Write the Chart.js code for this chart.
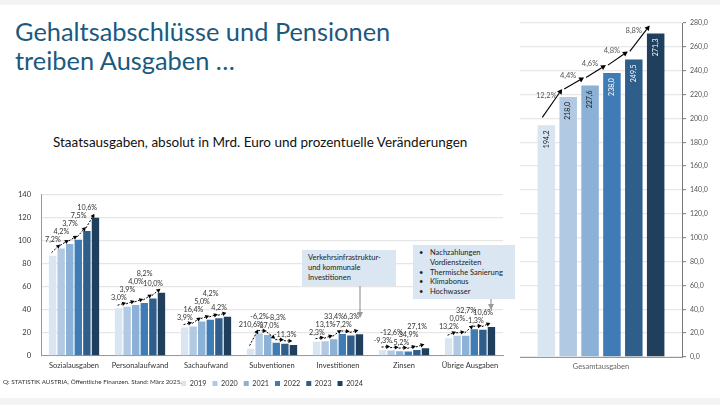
<!DOCTYPE html>
<html><head><meta charset="utf-8">
<script src="https://cdn.jsdelivr.net/npm/chart.js@4.4.1/dist/chart.umd.min.js"></script>
<style>
html,body{margin:0;padding:0;background:#fff;}
#slide{position:relative;width:720px;height:405px;overflow:hidden;font-family:Lato,"Open Sans",sans-serif;background:#fff;}
.strip{position:absolute;left:0;width:720px;background:#f2f3f5;}
#title{position:absolute;left:15px;top:17px;font-size:25.4px;line-height:29px;color:#1b5a7e;white-space:nowrap;}
#subtitle{position:absolute;left:53px;top:134px;font-size:13.5px;color:#111;white-space:nowrap;}
#leftWrap{position:absolute;left:0;top:180px;width:515px;height:217px;}
#rightWrap{position:absolute;left:505px;top:0;width:215px;height:397px;}
.box{position:absolute;background:#dae6f1;font-size:7.5px;color:#222;line-height:9.8px;box-sizing:border-box;}
.box .li{position:relative;padding-left:17px;white-space:nowrap;}
.box .li b{position:absolute;left:6px;font-weight:normal;}
#source{position:absolute;left:3px;top:378px;font-size:6.3px;color:#333;white-space:nowrap;}
svg{position:absolute;left:0;top:0;}
</style></head>
<body>
<div id="slide">
  <div class="strip" style="top:0;height:5px;"></div>
  <div class="strip" style="top:398px;height:7px;"></div>
  <div id="title">Gehaltsabschlüsse und Pensionen<br>treiben Ausgaben …</div>
  <div id="subtitle">Staatsausgaben, absolut in Mrd. Euro und prozentuelle Veränderungen</div>
  <div id="leftWrap"><canvas id="left"></canvas></div>
  <div id="rightWrap"><canvas id="right"></canvas></div>
  <div class="box" style="left:302px;top:250px;width:94px;height:36px;padding:3px 0 0 6px;">Verkehrsinfrastruktur-<br>und kommunale<br>Investitionen</div>
  <div class="box" style="left:413px;top:245px;width:102px;height:54px;padding-top:3px;">
    <div class="li"><b>•</b>Nachzahlungen</div>
    <div class="li">Vordienstzeiten</div>
    <div class="li"><b>•</b>Thermische Sanierung</div>
    <div class="li"><b>•</b>Klimabonus</div>
    <div class="li"><b>•</b>Hochwasser</div>
  </div>
  <svg width="720" height="405">
    <defs><marker id="ah" markerWidth="6" markerHeight="6" refX="5" refY="3" orient="auto" markerUnits="userSpaceOnUse"><path d="M0,0 L6,3 L0,6 z" fill="#999"/></marker></defs>
    <line x1="360" y1="286" x2="360" y2="317" stroke="#999" stroke-width="1.2" marker-end="url(#ah)"/>
    <line x1="491" y1="299" x2="491" y2="309" stroke="#999" stroke-width="1.2" marker-end="url(#ah)"/>
  </svg>
  <div id="source">Q: STATISTIK AUSTRIA, Öffentliche Finanzen. Stand: März 2025.</div>
</div>
<script>
// ---------- data ----------
const categories = ['Sozialausgaben','Personalaufwand','Sachaufwand','Subventionen','Investitionen','Zinsen','Übrige Ausgaben'];
const years = ['2019','2020','2021','2022','2023','2024'];
const v2019 = [86.9, 41.3, 24.5, 6.2, 12.3, 5.0, 15.3];
const v2020 = [93.2, 42.5, 25.5, 19.3, 12.6, 4.5, 17.3];
const v2021 = [97.1, 44.2, 29.7, 18.1, 14.3, 4.0, 17.3];
const v2022 = [100.7, 45.9, 31.2, 11.4, 19.0, 3.8, 23.0];
const v2023 = [108.3, 49.7, 32.5, 10.5, 17.7, 5.1, 22.7];
const v2024 = [119.8, 54.7, 33.9, 9.3, 18.8, 6.5, 25.1];
const chg2020 = ['7,2%','3,0%','3,9%','210,6%','2,3%','-9,3%','13,2%'];
const chg2021 = ['4,2%','3,9%','16,4%','-6,2%','13,1%','-12,6%','0,0%'];
const chg2022 = ['3,7%','4,0%','5,0%','-37,0%','33,4%','-5,2%','32,7%'];
const chg2023 = ['7,5%','8,2%','4,2%','-8,3%','-7,2%','34,9%','-1,3%'];
const chg2024 = ['10,6%','10,0%','4,2%','-11,3%','6,3%','27,1%','10,6%'];
const leftTicks = [0,20,40,60,80,100,120,140];
const totalCategory = ['Gesamtausgaben'];
const totals = [194.2, 218.0, 227.6, 238.0, 249.5, 271.3];
const totalChg = ['12,2%','4,4%','4,6%','4,8%','8,8%'];
const rightTicks = [0,20,40,60,80,100,120,140,160,180,200,220,240,260,280];

// ---------- styles ----------
const colors = ['#d9e5f1','#b1c9e2','#8cb1d6','#3f7cb6','#2f5e8a','#203f5c'];
Chart.defaults.font.family = 'Lato, "Open Sans", sans-serif';
Chart.defaults.animation = false;

function drawArrow(ctx,x1,y1,x2,y2,head,dash,color,lw){
  ctx.save();
  ctx.strokeStyle=color; ctx.fillStyle=color; ctx.lineWidth=lw;
  const a=Math.atan2(y2-y1,x2-x1);
  const bx=x2-head*Math.cos(a), by=y2-head*Math.sin(a);
  if(dash) ctx.setLineDash(dash);
  ctx.beginPath(); ctx.moveTo(x1,y1); ctx.lineTo(bx,by); ctx.stroke();
  ctx.setLineDash([]);
  const w=head*0.55;
  ctx.beginPath(); ctx.moveTo(x2,y2);
  ctx.lineTo(bx+w*Math.sin(a), by-w*Math.cos(a));
  ctx.lineTo(bx-w*Math.sin(a), by+w*Math.cos(a));
  ctx.closePath(); ctx.fill();
  ctx.restore();
}

const leftSeries = [v2019,v2020,v2021,v2022,v2023,v2024];
const leftChg = [chg2020,chg2021,chg2022,chg2023,chg2024];

const leftArrows = {
  id:'leftArrows',
  afterDatasetsDraw(chart){
    const ctx=chart.ctx;
    ctx.save();
    ctx.font='7.2px Lato';
    for(let c=0;c<categories.length;c++){
      let prev=null;
      for(let i=0;i<5;i++){
        const a=chart.getDatasetMeta(i).data[c], b=chart.getDatasetMeta(i+1).data[c];
        const x1=a.x-1, y1=a.y-3, x2=b.x-1, y2=b.y-4;
        drawArrow(ctx,x1,y1,x2,y2,4,[2,1.5],'#000',1);
        const txt=leftChg[i][c];
        const w=ctx.measureText(txt).width;
        const lx=(x1+x2)/2-3;
        let ly=Math.min(a.y,b.y)-9;
        if(prev && Math.abs(lx-prev.x)<(w+prev.w)/2+1 && Math.abs(ly-prev.y)<8){ ly=prev.y-8; }
        ctx.fillStyle='#333'; ctx.textAlign='center'; ctx.textBaseline='middle';
        ctx.fillText(txt, lx, ly);
        prev={x:lx,y:ly,w:w};
      }
    }
    ctx.restore();
  }
};

new Chart(document.getElementById('left'),{
  type:'bar',
  data:{labels:categories, datasets: years.map((y,i)=>({label:y, data:leftSeries[i], backgroundColor:colors[i], categoryPercentage:0.78, barPercentage:0.86}))},
  options:{
    responsive:true, maintainAspectRatio:false,
    layout:{padding:{top:10,right:12,left:0,bottom:0}},
    plugins:{
      legend:{position:'bottom', fullSize:false, labels:{boxWidth:5, boxHeight:5, padding:6, color:'#333', font:{size:7.2}}},
      tooltip:{enabled:false}
    },
    scales:{
      x:{grid:{display:false, drawTicks:false}, border:{color:'#999'}, ticks:{color:'#333', font:{size:7.5}, padding:5},
         afterFit(s){s.height=18;}},
      y:{min:0,max:140, afterBuildTicks(s){s.ticks=leftTicks.map(v=>({value:v}));},
         grid:{color:'#e6e6e6', lineWidth:1.3, drawTicks:false}, border:{display:true,color:'#999'},
         ticks:{color:'#333', font:{size:7.5}, padding:10},
         afterFit(s){s.width=41;}}
    }
  },
  plugins:[leftArrows]
});

const rightLabels = {
  id:'rightLabels',
  afterDatasetsDraw(chart){
    const ctx=chart.ctx;
    for(let i=0;i<6;i++){
      const e=chart.getDatasetMeta(i).data[0];
      ctx.save();
      ctx.translate(e.x,e.y+5); ctx.rotate(-Math.PI/2);
      ctx.font='7px Lato'; ctx.fillStyle=i<3?'#1a1a1a':'#ffffff';
      ctx.textAlign='right'; ctx.textBaseline='middle';
      ctx.fillText(totals[i].toFixed(1).replace('.',','),0,0);
      ctx.restore();
    }
    for(let i=0;i<5;i++){
      const a=chart.getDatasetMeta(i).data[0], b=chart.getDatasetMeta(i+1).data[0];
      const x1=a.x-4, y1=a.y-8, x2=b.x-6, y2=b.y-8;
      drawArrow(ctx,x1,y1,x2,y2,5,null,'#000',1.1);
      ctx.save();
      ctx.font='7.5px Lato'; ctx.fillStyle='#555'; ctx.textAlign='center'; ctx.textBaseline='middle';
      ctx.fillText(totalChg[i], (x1+x2)/2-6, (y1+y2)/2-8);
      ctx.restore();
    }
  }
};

new Chart(document.getElementById('right'),{
  type:'bar',
  data:{labels:totalCategory, datasets: years.map((y,i)=>({label:y, data:[totals[i]], backgroundColor:colors[i], categoryPercentage:0.81, barPercentage:0.8}))},
  options:{
    responsive:true, maintainAspectRatio:false,
    layout:{padding:{top:23,right:0,left:15,bottom:0}},
    plugins:{legend:{display:false}, tooltip:{enabled:false}},
    scales:{
      x:{grid:{display:false, drawTicks:false}, border:{color:'#999'}, ticks:{color:'#666', font:{size:7.5}, padding:5},
         afterFit(s){s.height=40;}},
      y:{position:'right', min:0, max:280, afterBuildTicks(s){s.ticks=rightTicks.map(v=>({value:v}));},
         grid:{color:'#e8e8e8', lineWidth:1.3, tickColor:'#777', tickLength:4, tickWidth:1},
         border:{display:true,color:'#777'},
         ticks:{color:'#555', font:{size:7}, padding:4, callback:v=>v.toFixed(1).replace('.',',')},
         afterFit(s){s.width=38;}}
    }
  },
  plugins:[rightLabels]
});
</script>
</body></html>
